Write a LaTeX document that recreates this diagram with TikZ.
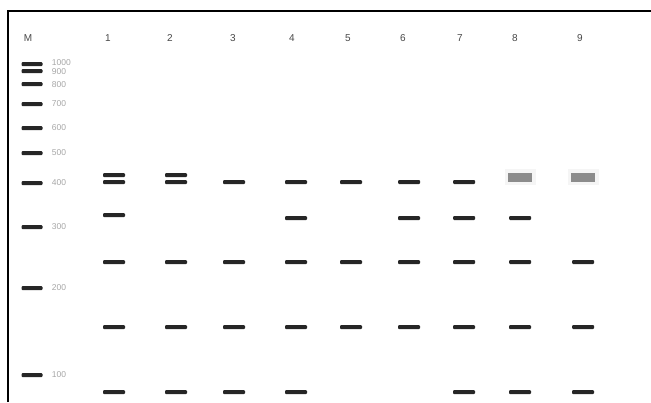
\documentclass[tikz,border=0pt]{standalone}
\usepackage{fontspec}
\setmainfont{Liberation Sans}
\usetikzlibrary{positioning}
\tikzset{
  band/.style={rectangle, rounded corners=1pt, fill=black!85, minimum width=22pt,
    minimum height=4pt, inner sep=0pt},
  mband/.style={band, minimum width=21pt},
  smear/.style={rectangle, fill=black!45, minimum width=24pt, minimum height=9pt,
    inner sep=0pt, preaction={draw=black!4, line width=7pt}},
  lane/.style={font=\fontsize{10}{11}\selectfont, text=black!72, inner sep=0pt},
  size/.style={font=\fontsize{8.5}{9}\selectfont, text=black!35, inner sep=0pt},
  frame/.style={draw=black, line width=1.4pt},
}

\begin{document}
\begin{tikzpicture}[x=1pt, y=-1pt]
  \useasboundingbox (0,0) rectangle (651,402);
  \draw[frame] (8,402) -- (8,11) -- (651,11);

  % lane numbers
  \node[lane] (lM) at (28,38) {M};
  \foreach \n/\x in {1/108,2/170,3/233,4/292,5/348,6/403,7/460,8/515,9/580}
    \node[lane] (l\n) at (\x,38) {\n};

  % size marker
  \foreach \s/\y/\d in {1000/64/-1.5,900/71/1,800/84/0.5,700/104/0,600/128/0,
                        500/153/0,400/183/0,300/227/0,200/288/0,100/375/0} {
    \node[mband] (m\s) at (32,\y) {};
    \node[size, right=9pt of m\s, yshift=-\d pt] (t\s) {\s};
  }

  % samples
  \foreach \n/\x/\ys in {1/114/{175,182,215,262,327,392},
                         2/176/{175,182,262,327,392},
                         3/234/{182,262,327,392},
                         4/296/{182,218,262,327,392},
                         5/351/{182,262,327},
                         6/409/{182,218,262,327},
                         7/464/{182,218,262,327,392},
                         8/520/{218,262,327,392},
                         9/583/{262,327,392}}
    \foreach \y in \ys
      \node[band] (b\n-\y) at (\x,\y) {};
  \node[smear] (b8-177) at (520,177) {};
  \node[smear] (b9-177) at (583,177) {};
\end{tikzpicture}
\end{document}
